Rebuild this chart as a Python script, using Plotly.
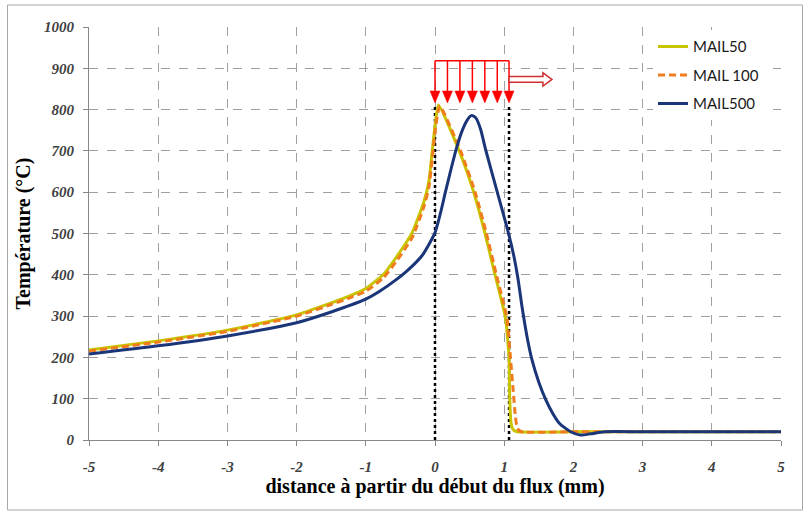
import plotly.graph_objects as go

# distance (mm) / temperature (°C)
x_mail50 = [-5, -4, -3, -2, -1.5, -1.25, -1, -0.75, -0.57, -0.33, -0.16, -0.09, -0.04, 0.0, 0.05,
            0.35, 0.56, 0.72, 0.86, 0.95, 1.02, 1.07, 1.08, 1.10, 1.13, 1.19, 2, 3, 4, 5]
t_mail50 = [218, 240, 266, 303, 332, 348, 367, 400, 440, 502, 577, 625, 700, 760, 811,
            700, 600, 502, 405, 345, 295, 200, 100, 40, 25, 20, 20, 20, 20, 20]

x_mail100 = [-5, -4, -3, -2, -1.5, -1.25, -1, -0.75, -0.57, -0.33, -0.16, -0.09, -0.04, 0.0, 0.07,
             0.37, 0.58, 0.74, 0.88, 0.97, 1.04, 1.09, 1.13, 1.16, 1.19, 1.25, 2, 3, 4, 5]
t_mail100 = [215, 237, 263, 300, 328, 343, 360, 392, 430, 490, 565, 610, 680, 745, 808,
             700, 600, 502, 405, 345, 295, 200, 120, 60, 28, 20, 20, 20, 20, 20]

x_mail500 = [-5, -4, -3, -2, -1.5, -1, -0.8, -0.57, -0.4, -0.18, 0.0, 0.08, 0.15, 0.23, 0.32,
             0.4, 0.47, 0.53, 0.59, 0.66, 0.73, 0.9, 1.06, 1.14, 1.2, 1.26, 1.33, 1.4, 1.5,
             1.6, 1.7, 1.8, 1.96, 2.1, 2.25, 2.45, 3, 4, 5]
t_mail500 = [208, 228, 252, 284, 310, 341, 360, 387, 410, 448, 502, 550, 600, 655, 712,
             752, 776, 786, 780, 752, 704, 600, 502, 445, 390, 320, 250, 195, 140,
             98, 65, 40, 20, 12, 15, 20, 20, 20, 20]

# heat flux zone (start / end of the flux) and the arrows above it
flux_limits = [0.0, 1.07]
flux_top = 810
arrow_x = [0.0, 0.18, 0.36, 0.54, 0.72, 0.90, 1.07]
arrow_base = 918
arrow_tip = 816

x_ticks = list(range(-5, 6))
y_ticks = list(range(0, 1001, 100))

tick_font = dict(family="Liberation Serif", size=15, color="#404040")
title_font = dict(family="Liberation Serif", size=20, color="#000000")

fig = go.Figure()

for xv in flux_limits:
    fig.add_trace(go.Scatter(x=[xv, xv], y=[0, flux_top], mode="lines",
                             line=dict(color="#000000", width=2.5, dash="dot"),
                             showlegend=False, hoverinfo="skip"))

fig.add_trace(go.Scatter(x=x_mail50, y=t_mail50, mode="lines", name="MAIL50",
                         line=dict(color="#C8C400", width=3, shape="spline", smoothing=0.5),
                         legendgroup="a"))
fig.add_trace(go.Scatter(x=x_mail100, y=t_mail100, mode="lines", name="MAIL 100",
                         line=dict(color="#F07C1E", width=3, dash="7px,4px", shape="spline", smoothing=0.5),
                         legendgroup="b"))
fig.add_trace(go.Scatter(x=x_mail500, y=t_mail500, mode="lines", name="MAIL500",
                         line=dict(color="#1A3578", width=3, shape="spline", smoothing=0.6),
                         legendgroup="c"))

shapes = []
# horizontal bar of the flux arrows
shapes.append(dict(type="line", xref="x", yref="y", x0=arrow_x[0], x1=arrow_x[-1],
                   y0=arrow_base, y1=arrow_base, line=dict(color="#FF0000", width=1.5)))
head_h = 29
head_w = 0.072
for xa in arrow_x:
    shapes.append(dict(type="line", xref="x", yref="y", x0=xa, x1=xa,
                       y0=arrow_base, y1=arrow_tip + head_h,
                       line=dict(color="#FF0000", width=1.5)))
    shapes.append(dict(type="path", xref="x", yref="y",
                       path=f"M {xa - head_w},{arrow_tip + head_h} L {xa + head_w},{arrow_tip + head_h} L {xa},{arrow_tip} Z",
                       fillcolor="#FF0000", line=dict(color="#FF0000", width=0.5)))

# hollow arrow showing the flux moving to the right
hx0, hx1, hx2 = 1.07, 1.56, 1.69
hy = 873
shapes.append(dict(type="path", xref="x", yref="y",
                   path=(f"M {hx0},{hy - 7} L {hx1},{hy - 7} L {hx1},{hy - 16} L {hx2},{hy} "
                         f"L {hx1},{hy + 16} L {hx1},{hy + 7} L {hx0},{hy + 7} Z"),
                   fillcolor="#FFFFFF", line=dict(color="#D03030", width=1.5)))

# outer frame of the picture
shapes.append(dict(type="rect", xref="paper", yref="paper",
                   x0=-0.1178, x1=1.0311, y0=-0.1695, y1=1.0533,
                   line=dict(color="#A6A6A6", width=1), layer="below"))

fig.update_layout(
    width=808, height=512,
    margin=dict(l=89, r=27, t=27, b=72),
    paper_bgcolor="#FFFFFF", plot_bgcolor="#FFFFFF",
    shapes=shapes,
    legend=dict(x=0.815, y=0.992, xanchor="left", yanchor="top",
                bgcolor="#FFFFFF", tracegroupgap=6,
                font=dict(family="Lato", size=15, color="#1a1a1a")),
)

fig.update_xaxes(range=[-5, 5], tickvals=x_ticks, ticktext=[f"<b><i>{v}</i></b>" for v in x_ticks],
                 tickfont=tick_font, ticks="outside", ticklen=5, tickcolor="#888888",
                 showline=True, linecolor="#888888", linewidth=1,
                 showgrid=True, gridcolor="#A0A0A0", griddash="dash", gridwidth=1,
                 zeroline=False, ticklabelstandoff=8,
                 title=dict(text="<b>distance à partir du début du flux (mm)</b>", font=title_font, standoff=4))
fig.update_yaxes(range=[0, 1000], tickvals=y_ticks, ticktext=[f"<b><i>{v}</i></b>" for v in y_ticks],
                 tickfont=tick_font, ticks="outside", ticklen=5, tickcolor="#888888",
                 showline=True, linecolor="#888888", linewidth=1,
                 showgrid=True, gridcolor="#A0A0A0", griddash="dash", gridwidth=1,
                 zeroline=False, ticklabelstandoff=6,
                 title=dict(text="<b>Température (°C)</b>", font=title_font, standoff=8))

fig.write_html("out.html", config={"displayModeBar": False},
               post_script="document.body.style.margin='0';")
